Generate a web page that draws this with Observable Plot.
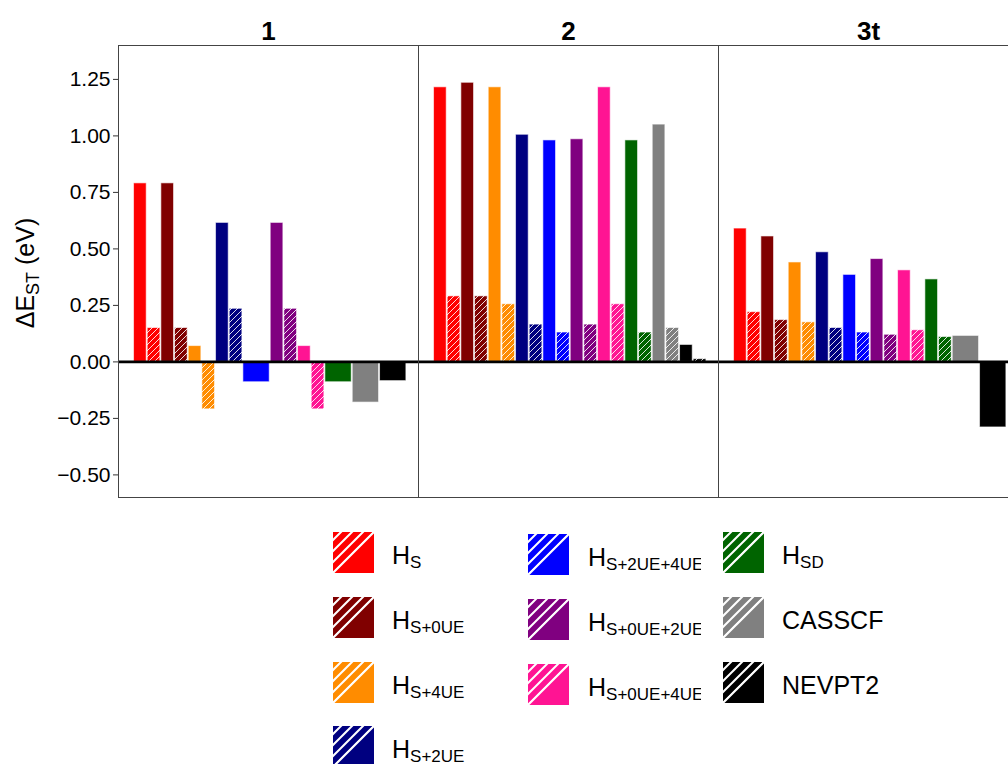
<!DOCTYPE html>
<html><head><meta charset="utf-8">
<script src="https://cdn.jsdelivr.net/npm/d3@7"></script>
<script src="https://cdn.jsdelivr.net/npm/@observablehq/plot@0.6"></script>
<style>
html,body{margin:0;padding:0;background:#fff;overflow:hidden;width:1008px;height:764px}
#chart{position:relative;width:1008px;height:764px;overflow:hidden}
#chart svg{display:block;max-width:none !important}
</style></head><body><div id="chart"></div>
<script>
// ---- data ----
const facets = ["1", "2", "3t"];
const methods = ["H_S", "H_S+0UE", "H_S+4UE", "H_S+2UE", "H_S+2UE+4UE", "H_S+0UE+2UE", "H_S+0UE+4UE", "H_SD", "CASSCF", "NEVPT2"];
const labelMain = ["H", "H", "H", "H", "H", "H", "H", "H", "CASSCF", "NEVPT2"];
const labelSub = ["S", "S+0UE", "S+4UE", "S+2UE", "S+2UE+4UE", "S+0UE+2UE", "S+0UE+4UE", "SD", "", ""];
const colors = ["#ff0000", "#800000", "#ff8c00", "#000080", "#0000ff", "#800080", "#ff1493", "#006400", "#808080", "#000000"];
// solid bars and hatched bars per molecule (null = no hatched bar)
const solid1 = [0.79, 0.79, 0.07, 0.615, -0.09, 0.615, 0.07, -0.09, -0.18, -0.085];
const hatch1 = [0.15, 0.15, -0.21, 0.235, null, 0.235, -0.21, null, null, null];
const solid2 = [1.215, 1.235, 1.215, 1.005, 0.98, 0.985, 1.215, 0.98, 1.05, 0.075];
const hatch2 = [0.29, 0.29, 0.255, 0.165, 0.13, 0.165, 0.255, 0.13, 0.15, 0.012];
const solid3 = [0.59, 0.555, 0.44, 0.485, 0.385, 0.455, 0.405, 0.365, 0.115, -0.29];
const hatch3 = [0.22, 0.185, 0.175, 0.15, 0.13, 0.12, 0.14, 0.11, null, null];
const yTicks = [-0.5, -0.25, 0, 0.25, 0.5, 0.75, 1, 1.25];

const solids = [solid1, solid2, solid3];
const hatches = [hatch1, hatch2, hatch3];
const rows = [];
facets.forEach((f, fi) => {
  const s = solids[fi], h = hatches[fi];
  methods.forEach((m, i) => {
    const wide = h[i] == null;
    rows.push({facet: f, method: m, kind: "solid", value: s[i], x1: 2 * i, x2: 2 * i + (wide ? 2 : 1), fill: colors[i]});
    if (!wide) rows.push({facet: f, method: m, kind: "hatch", value: h[i], x1: 2 * i + 1, x2: 2 * i + 2, fill: `url(#hatch-${i})`});
  });
});

const FONT = "'Liberation Sans', Arial, Helvetica, sans-serif";
const W = 1020, H = 505;

const plot = Plot.plot({
  width: W, height: H,
  marginLeft: 118, marginRight: 2, marginTop: 45, marginBottom: 8,
  style: {fontFamily: FONT, background: "white", color: "black", maxWidth: "none"},
  fx: {domain: facets, padding: 0, label: null},
  x: {domain: [-1.1, 20.85], axis: null},
  y: {domain: [-0.6, 1.4], label: null},
  color: {type: "identity"},
  marks: [
    Plot.axisFx({anchor: "top", tickSize: 0, tickPadding: 6, fontSize: 26, fontWeight: "bold", label: null}),
    Plot.axisY({ticks: yTicks, tickFormat: d3.format(".2f"), tickSize: 5, tickPadding: 3, fontSize: 21, label: null, stroke: "#333"}),
    Plot.rect(rows, {fx: "facet", x1: "x1", x2: "x2", y1: 0, y2: "value", fill: "fill",
      stroke: "white", strokeOpacity: 0.6, strokeWidth: 1, insetLeft: 0.5, insetRight: 0.5}),
    Plot.ruleY([0], {stroke: "black", strokeWidth: 2.6}),
    Plot.frame({stroke: "#444", strokeWidth: 1})
  ]
});
plot.style.maxWidth = "none";
plot.style.width = W + "px";
plot.style.height = H + "px";

const svg = d3.select(plot);
const defs = svg.insert("defs", ":first-child");
colors.forEach((c, i) => {
  const p = defs.append("pattern").attr("id", `hatch-${i}`).attr("patternUnits", "userSpaceOnUse")
    .attr("width", 6).attr("height", 6);
  p.append("rect").attr("width", 6).attr("height", 6).attr("fill", c);
  p.append("path").attr("d", "M-1,1L1,-1M0,6L6,0M5,7L7,5").attr("stroke", "white")
    .attr("stroke-opacity", 0.85).attr("stroke-width", 1);
});
// y label with subscript
const yl = svg.append("text").attr("transform", "translate(34,273) rotate(-90)")
  .attr("text-anchor", "middle").attr("font-size", 25).attr("font-family", FONT).attr("fill", "black");
yl.append("tspan").text("ΔE");
yl.append("tspan").attr("font-size", 18).attr("dy", 5).text("ST");
yl.append("tspan").attr("dy", -5).text(" (eV)");

document.getElementById("chart").appendChild(plot);

// ---- legend ----
const OFF = H;
const leg = d3.select("#chart").append("svg").attr("width", 1008).attr("height", 764 - OFF)
  .style("font-family", FONT);
const ldefs = leg.append("defs");
colors.forEach((c, i) => {
  const p = ldefs.append("pattern").attr("id", `lhatch-${i}`).attr("patternUnits", "userSpaceOnUse")
    .attr("width", 11).attr("height", 11);
  p.append("rect").attr("width", 11).attr("height", 11).attr("fill", c);
  p.append("path").attr("d", "M-1,9L9,-1M7,12L12,7").attr("stroke", "white").attr("stroke-width", 2);
});
ldefs.append("clipPath").attr("id", "legclip").append("rect")
  .attr("x", 0).attr("y", 0).attr("width", 701).attr("height", 300);
const colX = [333, 528, 723], textX = [392, 588, 782], rowY = [532, 597, 662, 726];
const colOf = i => (i < 4 ? 0 : i < 7 ? 1 : 2);
const rowOf = i => (i < 4 ? i : i < 7 ? i - 4 : i - 7);
methods.forEach((m, i) => {
  const c = colOf(i), r = rowOf(i);
  const y = rowY[r] - OFF + (c === 1 ? 2 : 0);
  const g = leg.append("g").attr("transform", `translate(${colX[c]},${y})`);
  g.append("rect").attr("width", 41).attr("height", 41).attr("fill", `url(#lhatch-${i})`);
  g.append("path").attr("d", "M41,0L41,41L0,41Z").attr("fill", colors[i]);
  g.append("line").attr("x1", 0).attr("y1", 41).attr("x2", 41).attr("y2", 0)
    .attr("stroke", "white").attr("stroke-width", 2);
  const t = leg.append("text").attr("x", textX[c]).attr("y", y + 20.5 + 11)
    .attr("font-size", 25).attr("fill", "black");
  if (c === 1) t.attr("clip-path", "url(#legclip)");
  t.append("tspan").text(labelMain[i]);
  if (labelSub[i]) t.append("tspan").attr("font-size", 17).attr("dy", 4).text(labelSub[i]);
});
</script></body></html>
